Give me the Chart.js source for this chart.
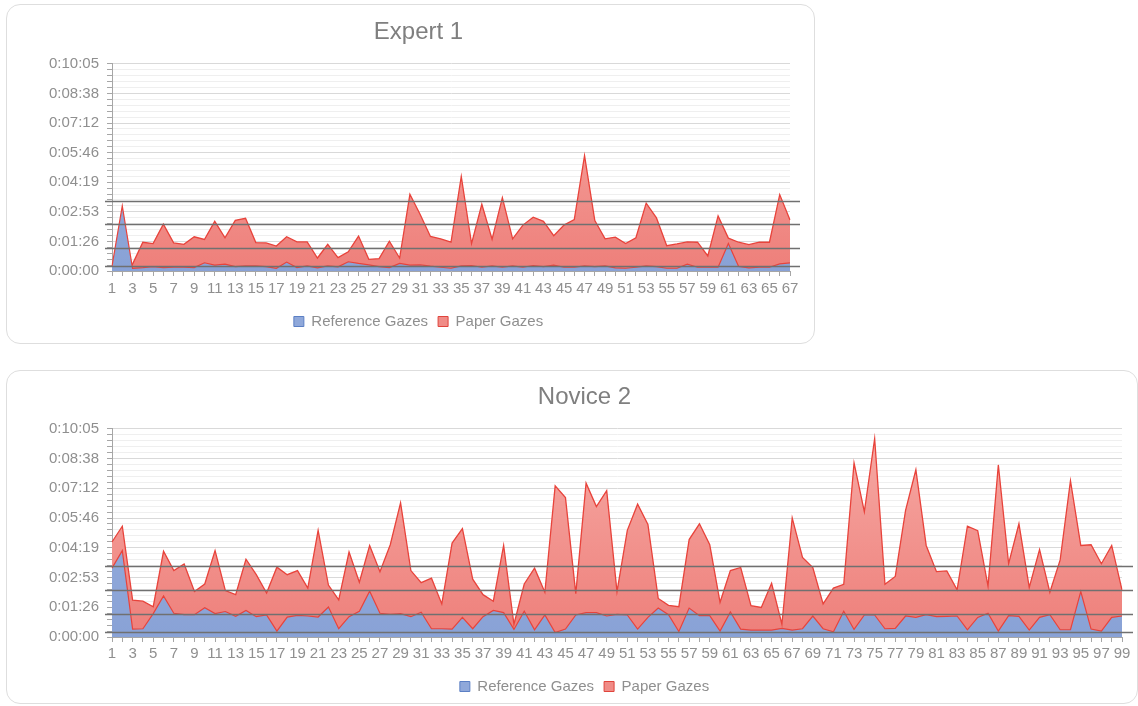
<!DOCTYPE html>
<html>
<head>
<meta charset="utf-8">
<script src="https://cdn.jsdelivr.net/npm/chart.js@4.4.0/dist/chart.umd.min.js"></script>
<style>
  body { margin: 0; background: #fff; width: 1138px; height: 706px; overflow: hidden; position: relative; }
  .box { position: absolute; border: 1.5px solid #dedede; border-radius: 14px; background: #fff; }
  canvas { position: absolute; }
</style>
</head>
<body>
<div class="box" style="left:6px;top:4px;width:807px;height:338px"></div>
<div class="box" style="left:6px;top:370px;width:1130px;height:332px"></div>
<canvas id="chartExpert" width="810" height="340" style="left:7px;top:5px"></canvas>
<canvas id="chartNovice" width="1131" height="336" style="left:7px;top:370px"></canvas>
<script>
// durations in seconds
const expertRef = [14, 190, 8, 10, 13, 10, 11, 11, 10, 24, 17, 20, 13, 15, 15, 13, 8, 26, 10, 15,
  9, 15, 12, 27, 22, 18, 13, 10, 22, 17, 18, 14, 11, 8, 15, 16, 11, 15, 11, 15,
  11, 16, 13, 17, 11, 11, 15, 13, 15, 9, 8, 11, 15, 13, 8, 8, 20, 11, 11, 11,
  80, 13, 9, 11, 11, 21, 24];
const expertPaper = [16, 9, 20, 84, 80, 137, 82, 78, 100, 92, 145, 97, 148, 154, 83, 82, 73, 100, 85, 85,
  38, 78, 39, 56, 102, 34, 36, 87, 38, 224, 165, 101, 94, 84, 276, 80, 195, 93, 214, 94,
  134, 157, 145, 103, 134, 150, 337, 147, 94, 99, 80, 97, 198, 155, 74, 79, 85, 84, 44, 161,
  96, 84, 77, 84, 84, 223, 149];
const noviceRef = [200, 251, 23, 24, 68, 119, 69, 65, 65, 85, 68, 74, 60, 77, 59, 64, 17, 58, 63, 61,
  58, 87, 24, 59, 75, 133, 69, 66, 68, 59, 72, 24, 24, 23, 57, 24, 59, 77, 71, 22,
  75, 21, 64, 13, 23, 64, 71, 71, 61, 66, 64, 23, 57, 84, 65, 16, 84, 62, 62, 17,
  73, 23, 20, 20, 20, 25, 20, 24, 61, 24, 15, 75, 22, 64, 64, 24, 25, 61, 57, 65,
  59, 60, 61, 21, 57, 69, 17, 62, 60, 20, 57, 65, 21, 21, 132, 23, 17, 57, 61];
const novicePaper = [276, 322, 107, 104, 88, 249, 193, 212, 132, 154, 251, 135, 123, 226, 181, 128, 203, 181, 193, 142,
  310, 151, 108, 247, 159, 266, 190, 268, 390, 193, 158, 171, 96, 273, 315, 168, 123, 104, 266, 37,
  154, 200, 130, 439, 405, 126, 447, 379, 425, 132, 310, 386, 327, 112, 92, 88, 283, 329, 268, 101,
  193, 202, 91, 86, 156, 37, 346, 231, 202, 96, 142, 153, 506, 364, 576, 153, 176, 368, 486, 266,
  190, 192, 137, 322, 309, 148, 500, 213, 329, 144, 254, 130, 224, 454, 266, 268, 213, 266, 137];

const seriesNames = ['Reference Gazes', 'Paper Gazes'];
const yTickLabels = ['0:00:00', '0:01:26', '0:02:53', '0:04:19', '0:05:46', '0:07:12', '0:08:38', '0:10:05'];
const yMax = 605;          // 0:10:05
const minorPerMajor = 5;
const levelValues = [15, 67, 136, 205];

const RED_LINE = '#e8433b';
const GREY_TEXT = '#8f8f8f';
const AXIS_GREY = '#a6a6a6';

Chart.defaults.font.family = '"Liberation Sans", Arial, sans-serif';

const levelLines = {
  id: 'levelLines',
  afterDatasetsDraw(chart, args, opts) {
    const ctx = chart.ctx;
    const area = chart.chartArea;
    const y = chart.scales.y;
    ctx.save();
    ctx.strokeStyle = '#707070';
    ctx.lineWidth = 1.3;
    opts.values.forEach(function (v) {
      const py = Math.round(y.getPixelForValue(v)) + 0.5;
      ctx.beginPath();
      ctx.moveTo(area.left - 7, py);
      ctx.lineTo(area.right + opts.extendRight, py);
      ctx.stroke();
    });
    ctx.restore();
  }
};

function vGradient(ctx, top, bottom) {
  const area = ctx.chart.chartArea;
  if (!area) return bottom;
  const g = ctx.chart.ctx.createLinearGradient(0, area.top, 0, area.bottom);
  g.addColorStop(0, top);
  g.addColorStop(1, bottom);
  return g;
}

function makeChart(id, title, ref, paper, pad) {
  const labels = ref.map(function (_, i) { return String(i + 1); });
  const nTicks = (yTickLabels.length - 1) * minorPerMajor;
  return new Chart(document.getElementById(id), {
    type: 'line',
    data: {
      labels: labels,
      datasets: [{
        label: seriesNames[0],
        data: ref,
        fill: 'origin',
        backgroundColor: function (c) { return vGradient(c, 'rgb(152,176,222)', 'rgb(137,162,214)'); },
        borderColor: RED_LINE,
        borderWidth: 1.2,
        pointRadius: 0,
        tension: 0
      }, {
        label: seriesNames[1],
        data: paper,
        fill: 'origin',
        backgroundColor: function (c) { return vGradient(c, 'rgb(246,170,165)', 'rgb(238,127,122)'); },
        borderColor: RED_LINE,
        borderWidth: 1.3,
        pointRadius: 0,
        tension: 0
      }]
    },
    options: {
      responsive: false,
      animation: false,
      devicePixelRatio: 1,
      layout: { padding: { left: 40, right: pad.right, top: 0, bottom: pad.bottom } },
      plugins: {
        title: {
          display: true,
          text: title,
          color: '#7f7f7f',
          font: { size: 24, weight: 'normal' },
          padding: { top: 13, bottom: pad.titleBottom }
        },
        legend: {
          position: 'bottom',
          labels: {
            boxWidth: 10,
            boxHeight: 10,
            color: GREY_TEXT,
            font: { size: 15 },
            padding: 10,
            generateLabels: function () {
              return [
                { text: seriesNames[0], fillStyle: 'rgb(143,168,218)', strokeStyle: '#5b7fc4', lineWidth: 1, fontColor: GREY_TEXT, datasetIndex: 0 },
                { text: seriesNames[1], fillStyle: 'rgb(240,140,135)', strokeStyle: '#e0443c', lineWidth: 1, fontColor: GREY_TEXT, datasetIndex: 1 }
              ];
            }
          }
        },
        tooltip: { enabled: false },
        levelLines: { values: levelValues, extendRight: pad.lineRight }
      },
      scales: {
        x: {
          border: { color: AXIS_GREY },
          grid: { drawOnChartArea: false, tickLength: 5, tickColor: AXIS_GREY },
          afterFit: function (s) { s.height += pad.xExtra; },
          ticks: {
            autoSkip: false,
            maxRotation: 0,
            padding: pad.xPad,
            color: GREY_TEXT,
            font: { size: 15 },
            callback: function (v, i) { return i % 2 === 0 ? labels[i] : ''; }
          }
        },
        y: {
          min: 0,
          max: yMax,
          afterBuildTicks: function (s) {
            s.ticks = [];
            for (let i = 0; i <= nTicks; i++) s.ticks.push({ value: i * yMax / nTicks });
          },
          afterFit: function (s) { s.width = 65; },
          border: { color: AXIS_GREY },
          grid: {
            color: function (c) { return c.index % minorPerMajor === 0 ? '#d9d9d9' : '#efefef'; },
            tickColor: AXIS_GREY,
            tickLength: 5
          },
          ticks: {
            autoSkip: false,
            padding: 8,
            color: GREY_TEXT,
            font: { size: 15 },
            callback: function (v, i) { return i % minorPerMajor === 0 ? yTickLabels[i / minorPerMajor] : ''; }
          }
        }
      }
    },
    plugins: [levelLines]
  });
}

makeChart('chartExpert', 'Expert 1', expertRef, expertPaper,
  { right: 27, bottom: 6, titleBottom: 17, lineRight: 10, xPad: 4, xExtra: 2 });
makeChart('chartNovice', 'Novice 2', noviceRef, novicePaper,
  { right: 16, bottom: 2, titleBottom: 17, lineRight: 11, xPad: 3, xExtra: 3 });
</script>
</body>
</html>
